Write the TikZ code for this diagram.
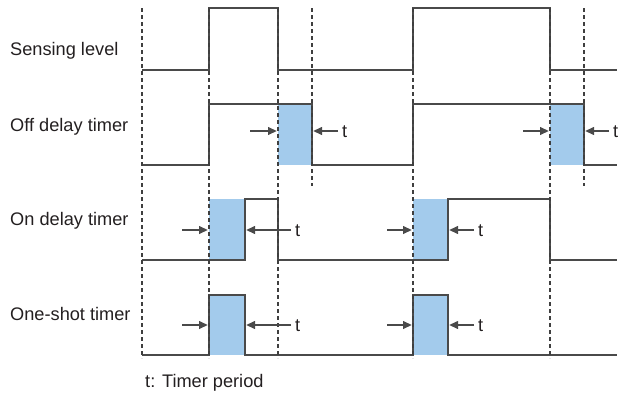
\documentclass[tikz,border=0pt]{standalone}
\usepackage{fontspec}
\setmainfont{Liberation Sans}
\usetikzlibrary{arrows.meta}
\definecolor{sig}{HTML}{4A4A4A}
\definecolor{fillblue}{HTML}{A3CBEC}
\definecolor{txt}{HTML}{231F20}
\begin{document}
\begin{tikzpicture}[x=1pt,y=-1pt,
  signal/.style={draw=sig,line width=2.3pt,line join=miter},
  guide/.style={draw=sig!85!black,line width=1.2pt,dash pattern=on 4pt off 3pt},
  period/.style={fill=fillblue,draw=none},
  ptr/.style={draw=sig,line width=2.2pt,-{Triangle[length=9pt,width=7.5pt]}},
  lbl/.style={font=\fontsize{18.2}{21}\selectfont,text=txt,anchor=base west,inner sep=0pt},
  tlbl/.style={font=\fontsize{18.2}{21}\selectfont,text=txt,anchor=base west,inner sep=0pt}]
\useasboundingbox (0,0) rectangle (621,394);
% labels
\node[lbl] (sl) at (10,55) {Sensing level};
\node[lbl] (od) at (10,131) {Off delay timer};
\node[lbl] (ond) at (10,225) {On delay timer};
\node[lbl] (os) at (10,320) {One-shot timer};
\node[lbl] (leg) at (145,387) {t: Timer period};
% timer periods
\path[period] (278,104) rectangle (312,165);
\path[period] (550,104) rectangle (584,165);
\path[period] (209,199) rectangle (245,260);
\path[period] (413,199) rectangle (448,260);
\path[period] (209,295) rectangle (245,355);
\path[period] (413,295) rectangle (448,355);
% signals
\draw[signal] (142,70)--(209,70)--(209,8)--(278,8)--(278,70)--(413,70)--(413,8)--(550,8)--(550,70)--(617,70);
\draw[signal] (142,165)--(209,165)--(209,104)--(312,104)--(312,165)--(413,165)--(413,104)--(584,104)--(584,165)--(617,165);
\draw[signal] (142,260)--(245,260)--(245,199)--(278,199)--(278,260)--(448,260)--(448,199)--(550,199)--(550,260)--(617,260);
\draw[signal] (142,355)--(209,355)--(209,295)--(245,295)--(245,355)--(413,355)--(413,295)--(448,295)--(448,355)--(617,355);
% guides
\foreach \x in {142,209,278,413,550} \draw[guide] (\x,8)--(\x,358);
\foreach \x in {312,584} \draw[guide] (\x,8)--(\x,186);
% arrows: off delay
\coordinate (a1s) at (250,131); \coordinate (a1e) at (277,131);
\coordinate (b1e) at (313,131); \node[tlbl] (t1) at (342,137) {t};
\draw[ptr] (a1s)--(a1e); \draw[ptr] (t1.west |- b1e) ++(-4,0) coordinate (b1s) (b1s)--(b1e);
\coordinate (a2s) at (523,131); \coordinate (a2e) at (549,131);
\coordinate (b2e) at (585,131); \node[tlbl] (t2) at (613,137) {t};
\draw[ptr] (a2s)--(a2e); \draw[ptr] (t2.west |- b2e) ++(-4,0) coordinate (b2s) (b2s)--(b2e);
% arrows: on delay
\coordinate (a3s) at (182,230); \coordinate (a3e) at (208,230);
\coordinate (b3e) at (246,230); \node[tlbl] (t3) at (295,236) {t};
\draw[ptr] (a3s)--(a3e); \draw[ptr] (t3.west |- b3e) ++(-4,0) coordinate (b3s) (b3s)--(b3e);
\coordinate (a4s) at (387,230); \coordinate (a4e) at (412,230);
\coordinate (b4e) at (449,230); \node[tlbl] (t4) at (478,236) {t};
\draw[ptr] (a4s)--(a4e); \draw[ptr] (t4.west |- b4e) ++(-4,0) coordinate (b4s) (b4s)--(b4e);
% arrows: one-shot
\coordinate (a5s) at (182,325); \coordinate (a5e) at (208,325);
\coordinate (b5e) at (246,325); \node[tlbl] (t5) at (295,331) {t};
\draw[ptr] (a5s)--(a5e); \draw[ptr] (t5.west |- b5e) ++(-4,0) coordinate (b5s) (b5s)--(b5e);
\coordinate (a6s) at (387,325); \coordinate (a6e) at (412,325);
\coordinate (b6e) at (449,325); \node[tlbl] (t6) at (478,331) {t};
\draw[ptr] (a6s)--(a6e); \draw[ptr] (t6.west |- b6e) ++(-4,0) coordinate (b6s) (b6s)--(b6e);
\end{tikzpicture}
\end{document}
